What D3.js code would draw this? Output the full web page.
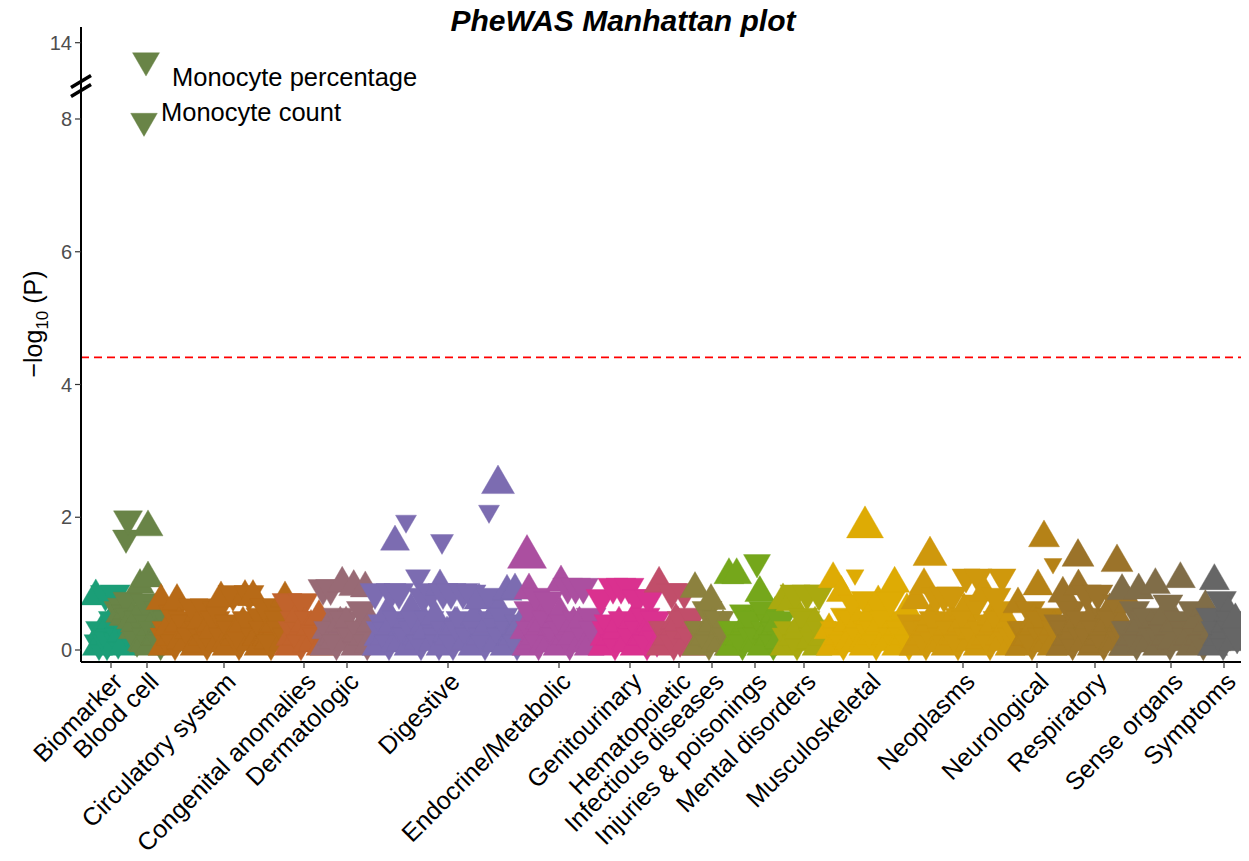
<!DOCTYPE html>
<html>
<head>
<meta charset="utf-8">
<script src="https://cdn.jsdelivr.net/npm/d3@7"></script>
<style>
  body { margin: 0; background: #fff; }
  text { font-family: "Liberation Sans", Arial, Helvetica, sans-serif; }
</style>
</head>
<body>
<svg id="chart" width="1249" height="861"></svg>
<script>
// phenotype categories, in plotting order
const categories = [
    "Biomarker", "Blood cell", "Circulatory system", "Congenital anomalies",
    "Dermatologic", "Digestive", "Endocrine/Metabolic", "Genitourinary",
    "Hematopoietic", "Infectious diseases", "Injuries & poisonings",
    "Mental disorders", "Musculoskeletal", "Neoplasms", "Neurological",
    "Respiratory", "Sense organs", "Symptoms"
];

// phenotype index range covered by each category
const catSpan = [
    [14, 46], [37, 95], [79, 207], [205, 241], [241, 291], [293, 441],
    [443, 513], [519, 579], [577, 619], [613, 649], [647, 701], [701, 745],
    [747, 829], [830, 934], [936, 976], [977, 1051], [1040, 1140], [1129, 1157]
];

// -log10(P) of the bulk of phenotypes, in phenotype order inside each category.
// sign = direction of effect (+ up, - down)
const baseLogP = [
    [0.81, 0.05, -0.1, -0.3, 0.3, 0.2, -0.84, -0.1, -0.15, 0.4, 0.45, -0.45, -0.85, 0.12, -0.12, -0.2, 0.25, 0.05, -0.5, -0.3],
    [-0.6, 0.55, -0.65, 0.5, -0.55, 0.6, -0.5, 0.45, 0.3, 0.4, -0.15, -0.45, 0.55, 0.12, 0.1, -0.2,
     -0.4, 0.05, 0.35, -0.3, 0.2, 0.2, -0.6, -0.1, 0.4, 0.4, 0.1, -0.45, -0.3, 0.12, 0.5, -0.2],
    [0.74, 0.05, -0.2, -0.3, 0.35, 0.2, -0.55, -0.1, 0.74, 0.4, 0.15, -0.45, -0.4, 0.12, 0.3, -0.2,
     -0.64, 0.05, 0.1, -0.3, 0.45, 0.2, -0.64, -0.1, -0.2, 0.4, 0.3, -0.45, -0.6, 0.12, 0.78, -0.2,
     0.1, 0.05, -0.4, -0.3, -0.84, 0.2, 0.3, -0.1, -0.15, 0.4, 0.8, -0.45, -0.84, 0.12, 0.8, -0.2,
     0.2, 0.05, -0.5, -0.3, -0.64, 0.2, 0.15, -0.1, 0.4, 0.4, -0.64, -0.45, -0.3, 0.12, 0.78, -0.2],
    [-0.72, 0.05, 0.2, -0.3, -0.45, 0.2, 0.55, -0.1, -0.72, 0.4, 0.1, -0.45, 0.35, 0.12, -0.25, -0.2, 0.5, 0.05],
    [-0.93, 0.05, 0.3, -0.3, -0.93, 0.2, 0.15, -0.1, -0.5, 0.4, 1.0, -0.45, 0.4, 0.12, -0.2, -0.2,
     0.95, 0.05, 0.25, -0.3, -0.6, 0.2, 0.93, -0.1, 0.1, 0.4],
    [-0.87, 0.05, 0.2, -0.3, -0.4, 0.2, 0.55, -0.1, -0.87, 0.4, 0.1, -0.45, -0.87, 0.12, 0.35, -0.2,
     -0.2, 0.05, 0.6, -0.3, -0.45, 0.2, 0.15, -0.1, -0.8, 0.4, 0.3, -0.45, -0.87, 0.12, 0.5, -0.2,
     -0.1, 0.05, -0.87, -0.3, 0.25, 0.2, -0.87, -0.1, 0.4, 0.4, -0.3, -0.45, -0.87, 0.12, 0.15, -0.2,
     -0.85, 0.05, 0.5, -0.3, 0.75, 0.2, -0.2, -0.1, 0.35, 0.4, -0.8, -0.45, 0.1, 0.12, 0.6, -0.2,
     -0.5, 0.05, 0.88, -0.3, 0.2, 0.2, 0.9, -0.1, -0.4, 0.4],
    [0.3, 0.05, -0.6, -0.3, 0.15, 0.2, -0.8, -0.1, 0.45, 0.4, 0.1, -0.45, -0.75, 0.12, 0.35, -0.2,
     -0.2, 0.05, 0.55, -0.3, -0.4, 0.2, -0.95, -0.1, 0.2, 0.4, -0.95, -0.45, 0.4, 0.12, -0.95, -0.2,
     0.1, 0.05, -0.5, -0.3],
    [-0.78, 0.05, 0.2, -0.3, -0.4, 0.2, -0.95, -0.1, 0.3, 0.4, -0.95, -0.45, 0.1, 0.12, -0.95, -0.2,
     0.45, 0.05, -0.78, -0.3, 0.2, 0.2, -0.5, -0.1, -0.78, 0.4, 0.35, -0.45, -0.15, 0.12],
    [1.0, 0.05, -0.3, -0.3, 0.2, 0.2, -0.87, -0.1, 0.45, 0.4, -0.15, -0.45, -0.87, 0.12, 0.3, -0.2, -0.5, 0.05, 0.1, -0.3],
    [0.92, 0.05, -0.3, -0.3, 0.2, 0.2, -0.6, -0.1, 0.74, 0.4, 0.1, -0.45, -0.45, 0.12, 0.35, -0.2, -0.2, 0.05],
    [1.13, 0.05, -0.3, -0.3, 1.13, 0.2, 0.2, -0.1, -0.55, 0.4, 0.4, -0.45, -0.2, 0.12, 0.1, -0.2,
     0.86, 0.05, -0.6, -0.3, 0.3, 0.2, -0.4, -0.1, 0.55, 0.4, 0.15, -0.45],
    [0.75, 0.05, -0.2, -0.3, 0.72, 0.2, -0.85, -0.1, 0.3, 0.4, -0.5, -0.45, -0.85, 0.12, 0.15, -0.2,
     0.4, 0.05, -0.85, -0.3, 0.2, 0.2],
    [0.3, 0.05, 1.07, -0.3, -0.2, 0.2, 0.86, -0.1, -0.5, 0.4, 0.15, -0.45, -0.7, 0.12, 0.4, -0.2,
     0.1, 0.05, -0.75, -0.3, 0.5, 0.2, -0.3, -0.1, 0.72, 0.4, -0.6, -0.45, 0.2, 0.12, -0.75, -0.2,
     1.0, 0.05, 0.35, -0.3, -0.2, 0.2, 0.6, -0.1],
    [-0.4, 0.05, 0.75, -0.3, 0.2, 0.2, 0.98, -0.1, -0.3, 0.4, 0.5, -0.45, -0.8, 0.12, 0.1, -0.2,
     -0.82, 0.05, 0.35, -0.3, -0.82, 0.2, 0.2, -0.1, -0.5, 0.4, 0.6, -0.45, -0.2, 0.12, 0.3, -0.2,
     -0.7, 0.05, 0.15, -0.3, 0.87, 0.2, -0.4, -0.1, 0.5, 0.4, -0.8, -0.45, 0.2, 0.12, -0.6, -0.2,
     0.4, 0.05, -0.2, -0.3],
    [0.69, 0.05, -0.3, -0.3, 0.2, 0.2, -0.6, -0.1, 0.45, 0.4, 0.96, -0.45, -0.2, 0.12, 0.1, -0.2, -0.5, 0.05, 0.35, -0.3],
    [-0.4, 0.05, 0.85, -0.3, 0.2, 0.2, -0.6, -0.1, 0.3, 0.4, 0.96, -0.45, -0.2, 0.12, -0.85, -0.2,
     0.45, 0.05, 0.1, -0.3, -0.85, 0.2, 0.3, -0.1, -0.5, 0.4, 0.6, -0.45, 0.15, 0.12, -0.7, -0.2,
     0.4, 0.05, -0.2, -0.3, 0.7, 0.2],
    [0.89, 0.05, -0.3, -0.3, 0.2, 0.2, -0.6, -0.1, 0.9, 0.4, 0.1, -0.45, -0.5, 0.12, 0.35, -0.2,
     0.98, 0.05, -0.2, -0.3, 0.5, 0.2, -0.7, -0.1, 0.15, 0.4, 0.4, -0.45, 1.07, 0.12, -0.3, -0.2,
     0.2, 0.05, -0.6, -0.3, 0.45, 0.2, 0.1, -0.1, 0.65, 0.4, -0.4, -0.45, 0.3, 0.12, -0.2, -0.2],
    [-0.5, 0.05, 1.04, -0.3, 0.2, 0.2, -0.75, -0.1, 0.3, 0.4, 0.56, -0.45, -0.3, 0.12, 0.45, -0.2]
];
const baseBeta = 0.09;

// notable phenotypes: [category, phenotype index, -log10(P), beta, label]
const hits = [
    [1, 65, 12.6, -0.081, "Monocyte percentage"],
    [1, 63, 7.97, -0.080, "Monocyte count"],
    [1, 47, 1.97, -0.087], [1, 45, 1.69, -0.081], [1, 67, 1.85, 0.09],
    [1, 67, 1.08, 0.09], [1, 59, 0.98, 0.085], [1, 47, 0.74, -0.09], [1, 64, 0.72, -0.09],
    [5, 314, 1.63, 0.087], [5, 325, 1.94, -0.063], [5, 361, 1.64, -0.069],
    [5, 337, 1.10, -0.075], [5, 359, 0.96, 0.09], [5, 417, 2.5, 0.099], [5, 408, 2.09, -0.063],
    [6, 446, 1.40, 0.117], [6, 480, 1.02, 0.09], [6, 448, 0.9, 0.09],
    [10, 676, 1.32, -0.081],
    [12, 784, 1.85, 0.111], [12, 774, 1.13, -0.054],
    [13, 849, 1.42, 0.102], [13, 885, 1.1, -0.084], [13, 897, 1.1, -0.084], [13, 921, 1.1, -0.084],
    [14, 963, 1.69, 0.093], [14, 972, 1.30, -0.054],
    [15, 997, 1.40, 0.096], [15, 1036, 1.32, 0.096]
];

const yTicks = [0, 2, 4, 6, 8, 14];
const threshold = 4.41;

// label nudges for the annotated hits (px)
const labelNudge = {
    "Monocyte percentage": [26, 25],
    "Monocyte count": [17, 0]
};

const svg = d3.select("#chart");
const panel = { left: 81, right: 1241, top: 27, bottom: 662 };

const x = d3.scaleLinear().domain([0, 1160]).range([panel.left, panel.right]);
// broken axis: 0-8 linear, 8-14 squeezed
const y = d3.scaleLinear().domain([0, 8, 14]).range([650, 119, 42.7]);
const width = d3.scaleLinear().domain([0, 0.12]).range([0, 40]);
const colors = d3.quantize(d3.piecewise(d3.interpolateRgb, d3.schemeDark2), categories.length);

// build the point table
const points = [];
baseLogP.forEach((vals, c) => {
    const [s, e] = catSpan[c];
    const step = (e - s) / vals.length;
    vals.forEach((v, i) => {
        points.push({ cat: c, pos: s + (i + 0.5) * step, logp: Math.abs(v), beta: Math.sign(v) * baseBeta });
    });
});
hits.forEach(h => points.push({ cat: h[0], pos: h[1], logp: h[2], beta: h[3], label: h[4] }));
points.sort((a, b) => a.cat - b.cat || a.pos - b.pos);

// title
svg.append("text")
    .attr("x", 623).attr("y", 31)
    .attr("text-anchor", "middle")
    .attr("font-size", 30).attr("font-weight", "bold").attr("font-style", "italic")
    .text("PheWAS Manhattan plot");

svg.append("defs").append("clipPath").attr("id", "panelClip")
    .append("rect")
    .attr("x", panel.left).attr("y", panel.top)
    .attr("width", panel.right - panel.left).attr("height", panel.bottom - panel.top);

const plot = svg.append("g").attr("clip-path", "url(#panelClip)");

// significance line
plot.append("line")
    .attr("x1", panel.left).attr("x2", panel.right)
    .attr("y1", y(threshold)).attr("y2", y(threshold))
    .attr("stroke", "#ff0000").attr("stroke-width", 1.8)
    .attr("stroke-dasharray", "8,5");

const tri = d => {
    const w = width(Math.abs(d.beta));
    return d3.symbol(d3.symbolTriangle, Math.sqrt(3) / 4 * w * w)();
};

plot.append("g")
    .selectAll("path")
    .data(points)
    .join("path")
    .attr("d", tri)
    .attr("transform", d => `translate(${x(d.pos)},${y(d.logp)})` + (d.beta < 0 ? " rotate(180)" : ""))
    .attr("fill", d => colors[d.cat])
    .attr("stroke", d => colors[d.cat])
    .attr("stroke-width", 0.4);

// labels for the top hits
svg.append("g")
    .selectAll("text")
    .data(points.filter(d => d.label))
    .join("text")
    .attr("x", d => x(d.pos) + labelNudge[d.label][0])
    .attr("y", d => y(d.logp) + labelNudge[d.label][1])
    .attr("font-size", 25.5)
    .attr("fill", "#000")
    .text(d => d.label);

// y axis
const yAxis = svg.append("g");
yAxis.append("line")
    .attr("x1", panel.left).attr("x2", panel.left)
    .attr("y1", panel.top).attr("y2", panel.bottom)
    .attr("stroke", "#000").attr("stroke-width", 2);
yAxis.selectAll(".tick")
    .data(yTicks)
    .join("line")
    .attr("x1", panel.left - 6).attr("x2", panel.left)
    .attr("y1", d => y(d)).attr("y2", d => y(d))
    .attr("stroke", "#333").attr("stroke-width", 1.2);
yAxis.selectAll("text")
    .data(yTicks)
    .join("text")
    .attr("x", panel.left - 9)
    .attr("y", d => y(d))
    .attr("dy", "0.36em")
    .attr("text-anchor", "end")
    .attr("font-size", 20)
    .attr("fill", "#4d4d4d")
    .text(d => d);

// break marks
[-4.5, 4.5].forEach(o => {
    yAxis.append("line")
        .attr("x1", panel.left - 10).attr("y1", 86 + o + 6)
        .attr("x2", panel.left + 10).attr("y2", 86 + o - 6)
        .attr("stroke", "#000").attr("stroke-width", 3.5);
});

const yl = svg.append("text")
    .attr("transform", "translate(42,324) rotate(-90)")
    .attr("text-anchor", "middle")
    .attr("font-size", 25)
    .attr("fill", "#000");
yl.append("tspan").text("\u2212log");
yl.append("tspan").attr("font-size", 17).attr("dy", 6).text("10");
yl.append("tspan").attr("dy", -6).text(" (P)");

// x axis
const tickPos = catSpan.map(s => (s[0] + s[1]) / 2);
const xAxis = svg.append("g");
xAxis.append("line")
    .attr("x1", panel.left).attr("x2", panel.right)
    .attr("y1", panel.bottom).attr("y2", panel.bottom)
    .attr("stroke", "#000").attr("stroke-width", 2);
xAxis.selectAll(".tick")
    .data(tickPos)
    .join("line")
    .attr("x1", d => x(d)).attr("x2", d => x(d))
    .attr("y1", panel.bottom).attr("y2", panel.bottom + 6)
    .attr("stroke", "#333").attr("stroke-width", 1.2);
xAxis.selectAll("text")
    .data(categories)
    .join("text")
    .attr("transform", (d, i) => `translate(${x(tickPos[i])},${panel.bottom + 8}) rotate(-45)`)
    .attr("dy", "0.75em")
    .attr("text-anchor", "end")
    .attr("font-size", 25)
    .attr("fill", "#000")
    .text(d => d);
</script>
</body>
</html>
